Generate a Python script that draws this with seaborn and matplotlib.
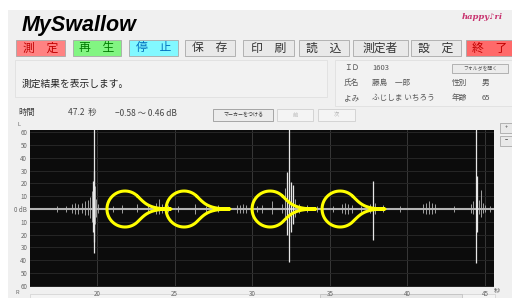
import numpy as np
import pandas as pd
import matplotlib
matplotlib.use("Agg")
import matplotlib.pyplot as plt
import seaborn as sns
from matplotlib.patches import Rectangle

# ─────────────────────────────────────────────
# DATOS
# ─────────────────────────────────────────────
# picos del registro: tiempo (s), amplitud superior e inferior (dB)
spike_t = [17.4, 18.0, 18.4, 18.6, 18.8, 19.0, 19.2, 19.4, 19.55, 19.65, 19.72, 19.78,
           19.83, 19.88, 19.95, 20.05, 21.0, 21.6, 22.6, 23.3, 23.8, 24.0, 24.2, 24.6,
           25.2, 26.3, 27.0, 27.8, 29.0, 29.2, 29.4, 29.6, 30.3, 30.6, 31.3, 31.9,
           32.1, 32.25, 32.39, 32.5, 32.62, 32.75, 33.0, 33.5, 34.2, 35.2, 35.8, 36.0,
           36.2, 36.4, 37.0, 37.6, 37.8, 37.9, 38.4, 39.5, 41.0, 41.2, 41.4, 41.6,
           41.8, 43.0, 44.1, 44.25, 44.42, 44.47, 44.6, 44.75, 44.85, 45.0, 45.3]
spike_top = [2.5, 2, 4, 5, 4, 5, 6, 7, 9, 14, 22, 62,
             30, 18, 8, 4, 2, 3, 4, 3, 5, 8, 4, 3,
             2, 4, 2, 3, 3, 3, 4, 3, 2, 3, 6, 4,
             16, 29, 62, 21, 19, 8, 4, 3, 2, 2, 4, 5,
             4, 3, 2, 4, 22, 5, 3, 2, 4, 5, 6, 5,
             4, 2, 4, 6, 62, 26, 7, 15, 5, 3, 2]
spike_bot = [-2, -2, -3, -4, -4, -3, -5, -5, -7, -10, -18, -34,
             -26, -12, -6, -3, -2, -3, -2, -2, -4, -4, -3, -2,
             -2, -4, -2, -2, -3, -3, -3, -3, -2, -3, -4, -3,
             -7, -20, -41, -18, -12, -6, -3, -2, -2, -2, -3, -4,
             -4, -3, -2, -3, -24, -4, -2, -2, -3, -4, -4, -4,
             -3, -2, -3, -4, -42, -18, -4, -6, -3, -2, -2]

# marcas amarillas (centro del circulo y punta, en segundos)
loop_center = [21.80, 25.61, 31.15, 35.66]
loop_tip = [24.77, 28.57, 34.11, 38.56]

x_ticks = [20, 25, 30, 35, 40, 45]
y_ticks = [60, 50, 40, 30, 20, 10, 0, -10, -20, -30, -40, -50, -60]
y_labels = ["60", "50", "40", "30", "20", "10", "0 dB", "10", "20", "30", "40", "50", "60"]

button_labels = ["測　定", "再　生", "停　止", "保　存", "印　刷", "読　込", "測定者", "設　定", "終　了"]
info_labels = ["ＩＤ", "氏名", "よみ"]
info_values = ["1603", "藤島　一郎", "ふじしま いちろう"]
extra_labels = ["性別", "年齢"]
extra_values = ["男", "65"]

# ─────────────────────────────────────────────
# ESTILO / LAYOUT
# ─────────────────────────────────────────────
W, H = 512, 298
sns.set_theme(style="dark")
plt.rcParams["font.family"] = ["Noto Sans CJK JP", "DejaVu Sans"]
JP = ["Noto Sans CJK JP", "DejaVu Sans"]

fig = plt.figure(figsize=(W / 100, H / 100), dpi=100, facecolor="white")


def fx(x):
    return x / W


def fy(y):
    return 1 - y / H


def box(x0, y0, x1, y1, face, edge="#a8a8a8", lw=0.6, z=1):
    fig.add_artist(Rectangle((fx(x0), fy(y1)), (x1 - x0) / W, (y1 - y0) / H,
                             transform=fig.transFigure, facecolor=face,
                             edgecolor=edge, lw=lw, zorder=z))


def label(x, y, s, size=6, color="#333333", ha="left", **kw):
    fig.text(fx(x), fy(y), s, fontsize=size, color=color, ha=ha, va="center",
             family=JP, **kw)


# fondo de la ventana
box(8, 10, W + 2, H + 2, "#f0f0f0", edge="none", z=-10)

fig.text(fx(22), fy(26), "MySwallow", fontsize=15.5, fontweight="bold",
         fontstyle="italic", family="Liberation Sans", color="black", va="center")
fig.text(fx(462), fy(17), "happy♪ri", fontsize=6, fontweight="bold",
         fontstyle="italic", family="DejaVu Serif", color="#c8326e", va="center")

# botones superiores
btn_x = [(16, 65), (73, 121), (129, 178), (185, 235), (243, 294),
         (299, 349), (353, 408), (411, 461), (466, 514)]
btn_face = ["#ff8282", "#82f582", "#82f8ff", "#e9e9e9", "#e9e9e9",
            "#e9e9e9", "#e9e9e9", "#e9e9e9", "#ff6a6a"]
btn_text = ["#c00000", "#007a00", "#0070c0", "#333333", "#333333",
            "#333333", "#333333", "#333333", "#c00000"]
for (x0, x1), face, tc, s in zip(btn_x, btn_face, btn_text, button_labels):
    box(x0, 40, x1, 56, face)
    label((x0 + x1) / 2, 48, s, size=8.5, color=tc, ha="center")

# paneles de informacion
box(15, 60, 327, 97, "#f2f2f2", edge="#e0e0e0")
label(22, 84, "測定結果を表示します。", size=7, color="#222222")
box(335, 60, 514, 106, "#f2f2f2", edge="#e0e0e0")
for i, (a, b) in enumerate(zip(info_labels, info_values)):
    label(344, 68 + i * 15, a, size=5.5, color="#555555")
    label(372, 68 + i * 15, b, size=5.5, color="#555555")
for i, (a, b) in enumerate(zip(extra_labels, extra_values)):
    label(452, 83 + i * 15, a, size=5.5, color="#555555")
    label(482, 83 + i * 15, b, size=5.5, color="#555555")
box(452, 64, 508, 73, "#ececec")
label(480, 68.5, "フォルダを開く", size=3.5, color="#555555", ha="center")

# fila de tiempo
label(18, 113, "時間", size=6, color="#444444")
label(68, 113, "47.2  秒", size=6, color="#444444")
label(115, 113, "−0.58 〜 0.46 dB", size=6, color="#444444")
box(213, 109, 273, 121, "#ececec", edge="#9a9a9a")
label(243, 115, "マーカーをつける", size=3.6, color="#333333", ha="center")
box(277, 109, 313, 121, "#f4f4f4", edge="#cfcfcf")
label(295, 115, "前", size=3.8, color="#b0b0b0", ha="center")
box(318, 109, 355, 121, "#f4f4f4", edge="#cfcfcf")
label(336, 115, "次", size=3.8, color="#b0b0b0", ha="center")
box(500, 123, 514, 133, "#e9e9e9")
label(506, 128, "+", size=4, color="#444444", ha="center")
box(500, 136, 514, 146, "#e9e9e9")
label(506, 141, "−", size=4, color="#444444", ha="center")
label(17, 124, "L", size=4, color="#666666")
label(15, 293, "R", size=4, color="#666666")
label(494, 291, "秒", size=4.5, color="#666666")
box(30, 294, 495, 300, "#f4f4f4", edge="#d0d0d0", lw=0.5)
box(320, 294, 462, 300, "#e6e6e6", edge="#bcbcbc", lw=0.5)

# ─────────────────────────────────────────────
# GRAFICO DE ONDA
# ─────────────────────────────────────────────
ax = fig.add_axes([fx(30), fy(287), 464 / W, 157 / H])
ax.set_zorder(5)
ax.set_facecolor("#0c0c0c")
ax.set_xlim(15.68, 45.58)
ax.set_ylim(-60.8, 61.6)

for t in x_ticks:
    ax.axvline(t, color="#383838", lw=0.7, zorder=0)
for v in y_ticks:
    ax.axhline(v, color="#262626", lw=0.7, zorder=0)

ax.axhline(0, color="#b4b4b4", lw=1.5, zorder=2)

spikes = pd.DataFrame({"t": spike_t, "top": spike_top, "bot": spike_bot})
big = (spikes["top"] - spikes["bot"]) > 30
small = spikes[~big]
large = spikes[big]
ax.vlines(small["t"], small["bot"], small["top"], color="#b8b8b8", lw=0.6, zorder=3)
ax.vlines(large["t"], large["bot"], large["top"], color="#e6e6e6", lw=0.9, zorder=3)

# marcas en forma de gota
R_PX = 18
rx, ry = R_PX / 15.52, R_PX / 1.283


def bezier(p0, p1, p2, p3, n=40):
    s = np.linspace(0, 1, n)[:, None]
    return ((1 - s) ** 3) * p0 + 3 * ((1 - s) ** 2) * s * p1 + 3 * (1 - s) * s ** 2 * p2 + s ** 3 * p3


rows = []
for k, (c, tip) in enumerate(zip(loop_center, loop_tip)):
    L = (tip - c) / rx
    th = np.linspace(np.pi / 4, 7 * np.pi / 4, 90)
    arc = np.column_stack([np.cos(th), np.sin(th)])
    p0 = np.array([0.707, -0.707])
    lower = bezier(p0, p0 + 0.6 * np.array([0.707, 0.707]), np.array([1.35, 0.0]), np.array([L, 0.0]))
    upper = lower[::-1] * np.array([1, -1])
    pts = np.vstack([arc, lower, upper])
    for i, (u, v) in enumerate(pts):
        rows.append({"loop": k, "order": i, "x": c + u * rx, "y": v * ry})
loops = pd.DataFrame(rows)
sns.lineplot(data=loops, x="x", y="y", units="loop", estimator=None, sort=False,
             color="#ffff00", lw=2.2, ax=ax, zorder=5, legend=False)

ax.set_xticks(x_ticks)
ax.set_xticklabels([str(t) for t in x_ticks])
ax.set_yticks(y_ticks)
ax.set_yticklabels(y_labels)
ax.tick_params(axis="both", labelsize=4.5, colors="#666666", length=0, pad=2)
ax.set_xlabel("")
ax.set_ylabel("")
for sp in ax.spines.values():
    sp.set_visible(False)
ax.grid(False)

fig.savefig("out.png", dpi=100, facecolor=fig.get_facecolor())
